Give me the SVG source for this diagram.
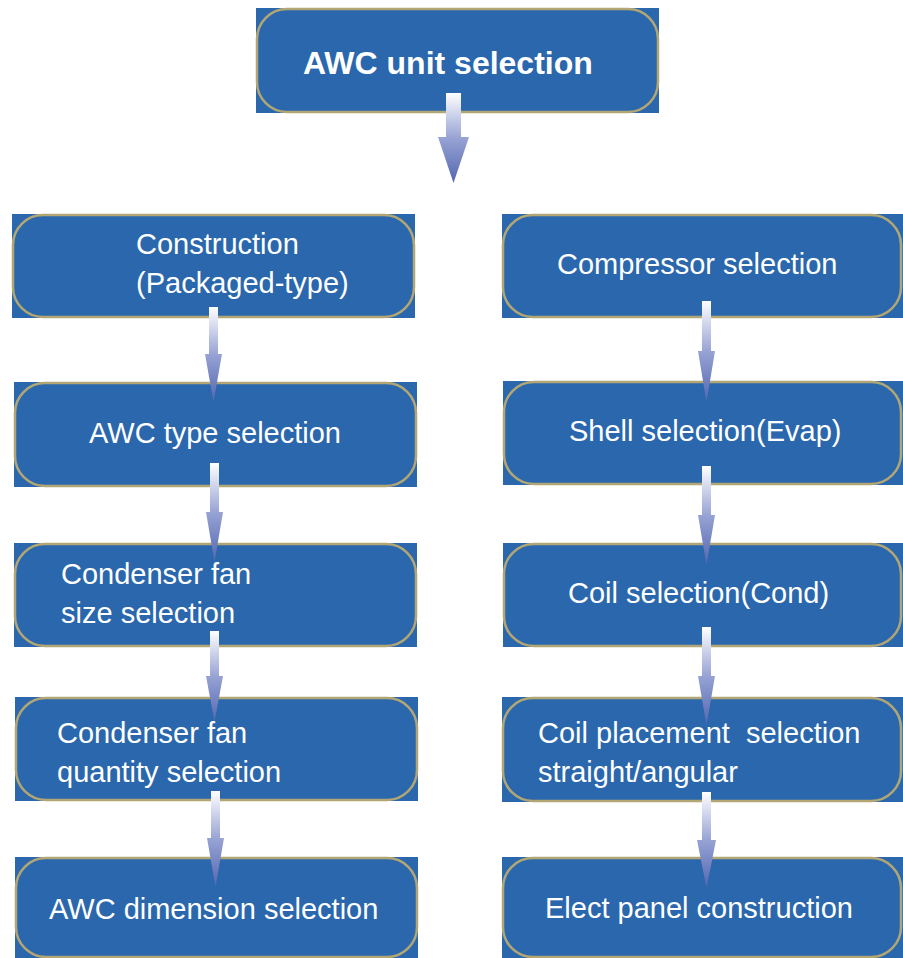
<svg xmlns="http://www.w3.org/2000/svg" width="903" height="958" viewBox="0 0 903 958">
<defs>
<linearGradient id="ag" x1="0" y1="0" x2="0" y2="1">
<stop offset="0" stop-color="#ffffff"/>
<stop offset="0.5" stop-color="#97a3d4"/>
<stop offset="1" stop-color="#5366b0"/>
</linearGradient>
<style>
.bg{fill:#2a67ad}
.bd{fill:none;stroke:#b2a674;stroke-width:2.5}
.t{font-family:"Liberation Sans",Arial,sans-serif;font-size:29px;fill:#ffffff}
.tb{font-family:"Liberation Sans",Arial,sans-serif;font-size:32px;font-weight:bold;fill:#ffffff}
.ar{fill:url(#ag)}
</style>
</defs>
<rect width="903" height="958" fill="#ffffff"/>

<g id="n0">
<rect class="bg" x="256" y="8" width="403" height="105"/>
<rect class="bd" x="257" y="9" width="401" height="103" rx="30"/>
<text class="tb" x="303" y="74">AWC unit selection</text>
</g>

<g id="n1">
<rect class="bg" x="12" y="214" width="403" height="104"/>
<rect class="bd" x="13" y="215" width="401" height="102" rx="30"/>
<text class="t" x="136" y="254">Construction</text>
<text class="t" x="136" y="293">(Packaged-type)</text>
</g>
<g id="n2">
<rect class="bg" x="14" y="382" width="403" height="105"/>
<rect class="bd" x="15" y="383" width="401" height="103" rx="30"/>
<text class="t" x="89" y="443">AWC type selection</text>
</g>
<g id="n3">
<rect class="bg" x="14" y="543" width="403" height="104"/>
<rect class="bd" x="15" y="544" width="401" height="102" rx="30"/>
<text class="t" x="61" y="584">Condenser fan</text>
<text class="t" x="61" y="623">size selection</text>
</g>
<g id="n4">
<rect class="bg" x="15" y="697" width="403" height="104"/>
<rect class="bd" x="16" y="698" width="401" height="102" rx="30"/>
<text class="t" x="57" y="743">Condenser fan</text>
<text class="t" x="57" y="782">quantity selection</text>
</g>
<g id="n5">
<rect class="bg" x="15" y="857" width="403" height="101"/>
<rect class="bd" x="16" y="858" width="401" height="99" rx="30"/>
<text class="t" x="49" y="919">AWC dimension selection</text>
</g>

<g id="n6">
<rect class="bg" x="502" y="214" width="401" height="104"/>
<rect class="bd" x="503" y="215" width="398" height="102" rx="30"/>
<text class="t" x="557" y="274">Compressor selection</text>
</g>
<g id="n7">
<rect class="bg" x="503" y="381" width="400" height="104"/>
<rect class="bd" x="504" y="382" width="397" height="102" rx="30"/>
<text class="t" x="569" y="441">Shell selection(Evap)</text>
</g>
<g id="n8">
<rect class="bg" x="503" y="543" width="400" height="104"/>
<rect class="bd" x="504" y="544" width="397" height="102" rx="30"/>
<text class="t" x="568" y="603">Coil selection(Cond)</text>
</g>
<g id="n9">
<rect class="bg" x="502" y="697" width="401" height="105"/>
<rect class="bd" x="503" y="698" width="398" height="103" rx="30"/>
<text class="t" x="538" y="743" xml:space="preserve">Coil placement  selection</text>
<text class="t" x="538" y="782">straight/angular</text>
</g>
<g id="n10">
<rect class="bg" x="502" y="857" width="401" height="101"/>
<rect class="bd" x="503" y="858" width="398" height="99" rx="30"/>
<text class="t" x="545" y="918">Elect panel construction</text>
</g>

<g id="connectors">
<polygon class="ar" points="446,93 461,93 461,137 469,137 453.5,183 438,137 446,137"/>
<polygon class="ar" points="209,307 218,307 218,354 222,354 213.5,402 205,354 209,354"/>
<polygon class="ar" points="210,463 219,463 219,512 223,512 214.5,562 206,512 210,512"/>
<polygon class="ar" points="210,631 219,631 219,676 223,676 214.5,722 206,676 210,676"/>
<polygon class="ar" points="211,791 220,791 220,838 224,838 215.5,887 207,838 211,838"/>
<polygon class="ar" points="702,301 711,301 711,351 715,351 706.5,402 698,351 702,351"/>
<polygon class="ar" points="702,466 711,466 711,515 715,515 706.5,565 698,515 702,515"/>
<polygon class="ar" points="702,627 711,627 711,676 715,676 706.5,725 698,676 702,676"/>
<polygon class="ar" points="702,792 711,792 711,840 716,840 706.5,888 697,840 702,840"/>
</g>
</svg>
